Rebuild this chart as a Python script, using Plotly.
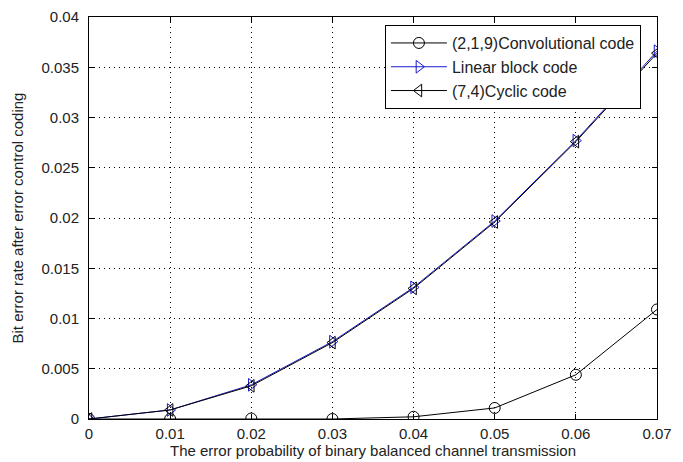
import plotly.graph_objects as go

p = [0, 0.01, 0.02, 0.03, 0.04, 0.05, 0.06, 0.07]
conv = [0, 0.0, 0.00005, 0.0, 0.00022, 0.0011, 0.0044, 0.0109]
linear = [0, 0.0009, 0.0034, 0.0077, 0.0131, 0.0197, 0.0277, 0.0366]
cyclic = [0, 0.0009, 0.0033, 0.0076, 0.0130, 0.0196, 0.0276, 0.0364]

xticks = [0, 0.01, 0.02, 0.03, 0.04, 0.05, 0.06, 0.07]
xticktext = ["0", "0.01", "0.02", "0.03", "0.04", "0.05", "0.06", "0.07"]
yticks = [0, 0.005, 0.01, 0.015, 0.02, 0.025, 0.03, 0.035, 0.04]
yticktext = ["0", "0.005", "0.01", "0.015", "0.02", "0.025", "0.03", "0.035", "0.04"]

FONT = "Liberation Sans, Arial, sans-serif"

fig = go.Figure()
fig.add_trace(go.Scatter(
    x=p, y=conv, mode="lines+markers", name="(2,1,9)Convolutional code",
    line=dict(color="black", width=1),
    marker=dict(symbol="circle-open", size=11, color="black", line=dict(width=1))))
fig.add_trace(go.Scatter(
    x=p, y=linear, mode="lines+markers", name="Linear block code",
    line=dict(color="#1a1acc", width=1),
    marker=dict(symbol="triangle-right-open", size=11, color="#1a1acc", line=dict(width=1))))
fig.add_trace(go.Scatter(
    x=p, y=cyclic, mode="lines+markers", name="(7,4)Cyclic code",
    line=dict(color="black", width=1),
    marker=dict(symbol="triangle-left-open", size=11, color="black", line=dict(width=1))))

axis_common = dict(
    showline=True, linecolor="black", linewidth=1, mirror="ticks",
    ticks="inside", ticklen=5, tickcolor="black",
    showgrid=True, gridcolor="black", griddash="1px,4px", gridwidth=1,
    zeroline=False, automargin=False,
    tickfont=dict(family=FONT, size=15, color="#222"),
)

fig.update_layout(
    width=683, height=462,
    margin=dict(l=89, r=26, t=17, b=43),
    paper_bgcolor="white", plot_bgcolor="white",
    font=dict(family=FONT, size=14, color="#222"),
    xaxis=dict(range=[0, 0.07], tickvals=xticks, ticktext=xticktext,
               ticklabelstandoff=1,
               title=dict(text="The error probability of binary balanced channel transmission",
                          standoff=2, font=dict(size=15)),
               **axis_common),
    yaxis=dict(range=[0, 0.04], tickvals=yticks, ticktext=yticktext,
               ticklabelstandoff=6,
               title=dict(text="Bit error rate after error control coding",
                          standoff=14, font=dict(size=15)),
               **axis_common),
    legend=dict(x=0.521, y=0.98, xanchor="left", yanchor="top",
                bgcolor="white", bordercolor="black", borderwidth=1,
                font=dict(family=FONT, size=16, color="#222"),
                itemwidth=56, tracegroupgap=0),
    showlegend=True,
)

fig.write_html("out.html")
